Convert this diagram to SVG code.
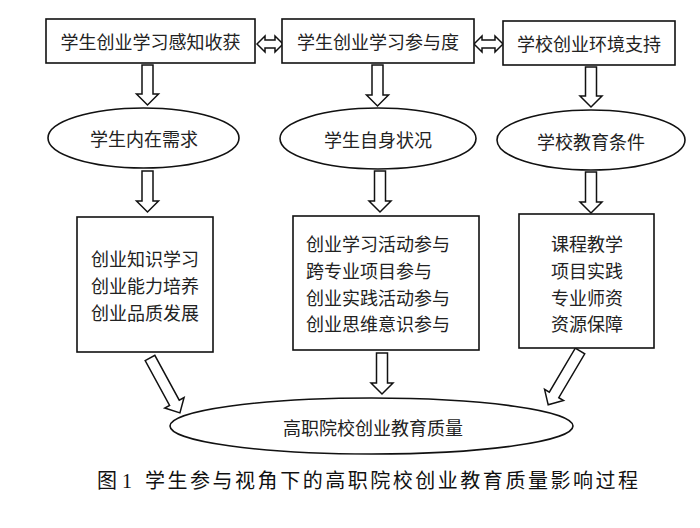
<svg xmlns="http://www.w3.org/2000/svg" width="700" height="528" viewBox="0 0 700 528">
<style>
.box{fill:#fff;stroke:#111;stroke-width:1.6}
.arr{fill:#fff;stroke:#111;stroke-width:1.5;stroke-linejoin:miter}
.t{font-family:"Noto Sans CJK SC","Noto Sans",sans-serif;font-size:18px;fill:#222;text-anchor:middle;dominant-baseline:central}
.tl{font-family:"Noto Sans CJK SC","Noto Sans",sans-serif;font-size:18px;fill:#222;dominant-baseline:central}
.cap{font-family:"Liberation Serif","Noto Sans CJK SC",serif;font-size:20px;fill:#111;dominant-baseline:central}
</style>
<rect width="700" height="528" fill="#fff"/>
<g id="connectors">
<path class="arr" d="M257,44 L265,36 L265,40 L275,40 L275,36 L283,44 L275,52 L275,48 L265,48 L265,52 Z"/>
<path class="arr" d="M474,44 L482,36 L482,40 L495,40 L495,36 L503,44 L495,52 L495,48 L482,48 L482,52 Z"/>
<path class="arr" d="M142,65 L153,65 L153,94 L158.5,94 L147.5,105 L136.5,94 L142,94 Z"/>
<path class="arr" d="M372,65 L383,65 L383,95 L388.5,95 L377.5,106 L366.5,95 L372,95 Z"/>
<path class="arr" d="M585.5,67 L596.5,67 L596.5,96 L602,96 L591,107 L580,96 L585.5,96 Z"/>
<path class="arr" d="M142,171 L153,171 L153,201 L158.5,201 L147.5,212 L136.5,201 L142,201 Z"/>
<path class="arr" d="M374.5,171 L385.5,171 L385.5,201 L391,201 L380,212 L369,201 L374.5,201 Z"/>
<path class="arr" d="M585.5,172 L596.5,172 L596.5,202 L602,202 L591,213 L580,202 L585.5,202 Z"/>
<path class="arr" d="M376.5,353 L387.5,353 L387.5,383 L393,383 L382,394 L371,383 L376.5,383 Z"/>
<path class="arr" transform="translate(150,358) rotate(-28.6)" d="M-5.5,0 L5.5,0 L5.5,51 L11,51 L0,62.5 L-11,51 L-5.5,51 Z"/>
<path class="arr" transform="translate(580,351) rotate(30.6)" d="M-5.5,0 L5.5,0 L5.5,51 L11,51 L0,62.5 L-11,51 L-5.5,51 Z"/>
</g>
<g id="n1"><rect class="box" x="46" y="19" width="209" height="44"/><text class="t" x="150.5" y="41">学生创业学习感知收获</text></g>
<g id="n2"><rect class="box" x="282" y="19" width="192" height="44"/><text class="t" x="378" y="41">学生创业学习参与度</text></g>
<g id="n3"><rect class="box" x="503" y="21" width="172" height="44"/><text class="t" x="589" y="43">学校创业环境支持</text></g>
<g id="e1"><ellipse class="box" cx="143.5" cy="138" rx="95.5" ry="30"/><text class="t" x="144" y="138">学生内在需求</text></g>
<g id="e2"><ellipse class="box" cx="378" cy="138.5" rx="98" ry="30.5"/><text class="t" x="378" y="139">学生自身状况</text></g>
<g id="e3"><ellipse class="box" cx="591" cy="140" rx="94" ry="30"/><text class="t" x="591" y="141">学校教育条件</text></g>
<g id="b1"><rect class="box" x="77" y="217" width="136" height="135"/>
<text class="t" x="145" y="258">创业知识学习</text>
<text class="t" x="145" y="285">创业能力培养</text>
<text class="t" x="145" y="312">创业品质发展</text></g>
<g id="b2"><rect class="box" x="293" y="216" width="186" height="134"/>
<text class="tl" x="306" y="243">创业学习活动参与</text>
<text class="tl" x="306" y="270">跨专业项目参与</text>
<text class="tl" x="306" y="297">创业实践活动参与</text>
<text class="tl" x="306" y="323">创业思维意识参与</text></g>
<g id="b3"><rect class="box" x="519" y="214" width="135" height="134"/>
<text class="t" x="587" y="243">课程教学</text>
<text class="t" x="587" y="270">项目实践</text>
<text class="t" x="587" y="297">专业师资</text>
<text class="t" x="587" y="323">资源保障</text></g>
<g id="e4"><ellipse class="box" cx="371.5" cy="426" rx="201.5" ry="28"/><text class="t" x="373" y="427">高职院校创业教育质量</text></g>
<text class="cap" x="97" y="481">图 1</text>
<text class="cap" x="145" y="481" textLength="493" lengthAdjust="spacing">学生参与视角下的高职院校创业教育质量影响过程</text>
</svg>
